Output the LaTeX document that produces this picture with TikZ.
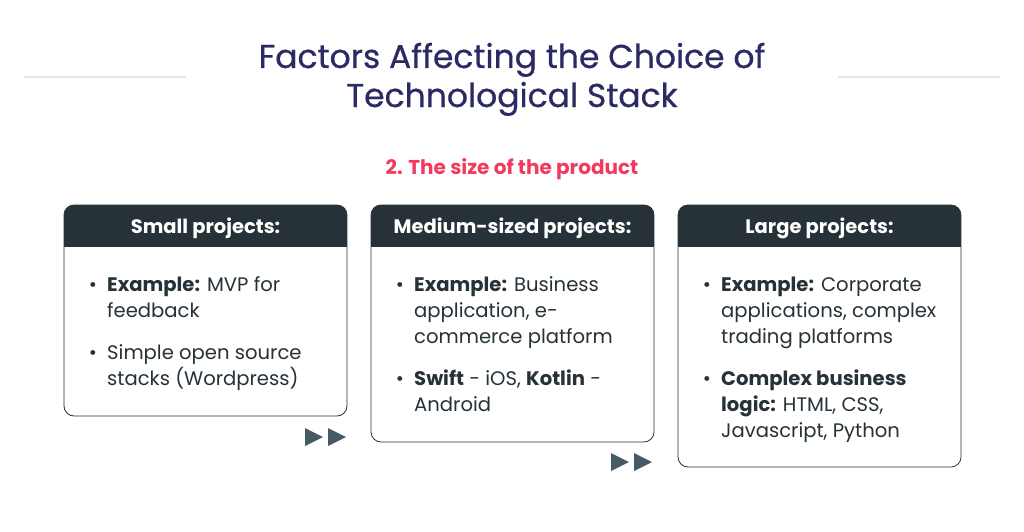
\documentclass[tikz,border=0pt]{standalone}
\usepackage{fontspec}
\setmainfont{Poppins}
\newfontfamily\titlefont[FakeBold=0.6]{Poppins}
\definecolor{titlec}{HTML}{2B2A63}
\definecolor{subc}{HTML}{F23A5E}
\definecolor{headc}{HTML}{263238}
\definecolor{textc}{HTML}{263238}
\definecolor{linec}{HTML}{E4E4F1}
\definecolor{arrc}{HTML}{455A64}
\tikzset{
  card/.style={draw=headc, line width=0.8pt, rounded corners=10pt},
  headtxt/.style={text=white, font=\fontsize{19.5}{22}\selectfont\bfseries, anchor=base},
  ln/.style={text=textc, font=\fontsize{19.6}{26}\selectfont, anchor=base west, inner sep=0pt},
  bul/.style={text=textc, font=\fontsize{19.6}{26}\selectfont, anchor=base, inner sep=0pt},
  ttl/.style={text=titlec, font=\titlefont\fontsize{33}{39}\selectfont, anchor=base},
  tri/.style={fill=arrc, draw=none},
  deco/.style={draw=linec, line width=1.6pt}
}
\begin{document}
\begin{tikzpicture}[x=1pt,y=-1pt]
\useasboundingbox (0,0) rectangle (1024,532);
% title
\node[ttl] (title1) at (512,68) {Factors Affecting the Choice of};
\node[ttl] (title2) at (512,107) {Technological Stack};
\draw[deco] (24,77) coordinate (l1) -- (186,77) coordinate (l2);
\draw[deco] (838,77) coordinate (r1) -- (1000,77) coordinate (r2);
\node[text=subc, font=\fontsize{20}{22}\selectfont\bfseries, anchor=base] (sub) at (512,174) {2. The size of the product};
% cards
\foreach \x/\b in {64/416, 371/442, 678/467}{
  \fill[white, rounded corners=10pt] (\x,205) rectangle (\x+283,\b);
  \begin{scope}
    \clip[rounded corners=10pt] (\x,205) rectangle (\x+283,\b);
    \fill[headc] (\x,205) rectangle (\x+283,247);
  \end{scope}
  \draw[card] (\x,205) rectangle (\x+283,\b);
}
\node[headtxt] (ha) at (205.5,233) {Small projects:};
\node[headtxt] (hb) at (512.5,233) {Medium-sized projects:};
\node[headtxt] (hc) at (819.5,233) {Large projects:};
% card a
\node[bul] (ba1) at (93,291) {•};
\node[ln] (a1) at (107,291) {\textbf{Example:} MVP for};
\node[ln] (a2) at (107,317) {feedback};
\node[bul] (ba2) at (93,359) {•};
\node[ln] (a3) at (107,359) {Simple open source};
\node[ln] (a4) at (107,385) {stacks (Wordpress)};
% card b
\node[bul] (bb1) at (400,291) {•};
\node[ln] (b1) at (414,291) {\textbf{Example:} Business};
\node[ln] (b2) at (414,317) {application, e-};
\node[ln] (b3) at (414,343) {commerce platform};
\node[bul] (bb2) at (400,385) {•};
\node[ln] (b4) at (414,385) {\textbf{Swift} - iOS, \textbf{Kotlin} -};
\node[ln] (b5) at (414,411) {Android};
% card c
\node[bul] (bc1) at (707,291) {•};
\node[ln] (c1) at (721,291) {\textbf{Example:} Corporate};
\node[ln] (c2) at (721,317) {applications, complex};
\node[ln] (c3) at (721,343) {trading platforms};
\node[bul] (bc2) at (707,385) {•};
\node[ln] (c4) at (721,385) {\textbf{Complex business}};
\node[ln] (c5) at (721,411) {\textbf{logic:} HTML, CSS,};
\node[ln] (c6) at (721,437) {Javascript, Python};
% arrows
\fill[tri] (305,428) -- (323,437) -- (305,446) -- cycle;
\fill[tri] (328,428) -- (346,437) -- (328,446) -- cycle;
\fill[tri] (611,453) -- (629,462) -- (611,471) -- cycle;
\fill[tri] (634,453) -- (652,462) -- (634,471) -- cycle;
\end{tikzpicture}
\end{document}
